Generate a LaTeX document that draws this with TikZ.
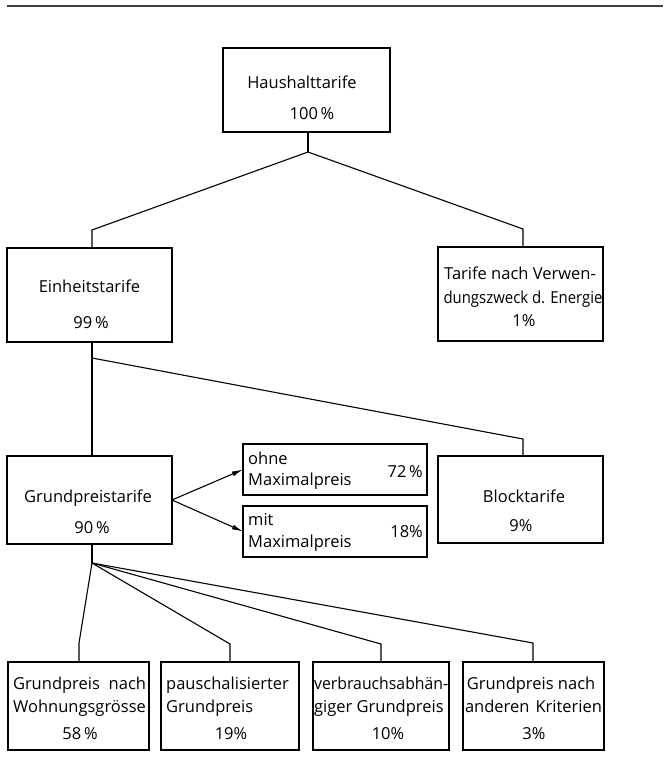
\documentclass[tikz,border=0pt]{standalone}
\usepackage{fontspec}
\usepackage{graphicx}
\setmainfont{Open Sans}
\usetikzlibrary{arrows.meta}

\begin{document}
\begin{tikzpicture}[x=1pt,y=-1pt,
  box/.style={draw, line width=1.2pt, inner sep=0pt, outer sep=0pt, anchor=north west},
  txt/.style={inner sep=0pt, anchor=base, font=\fontsize{16.5}{20}\selectfont},
  txtL/.style={txt, anchor=base west},
  txtR/.style={txt, anchor=base east},
  link/.style={line width=1.1pt},
  arr/.style={link, -{Latex[length=11pt,width=5pt]}}]

\useasboundingbox (0,0) rectangle (670,765);

% rule across the head of the page
\draw[line width=1.6pt, black!75] (7,6) -- (663,6);

% boxes
\node[box, minimum width=167pt, minimum height=84pt] (top)   at (223,48)  {};
\node[box, minimum width=165pt, minimum height=94pt] (ein)   at (7,248)   {};
\node[box, minimum width=165pt, minimum height=94pt] (ver)   at (438,247) {};
\node[box, minimum width=165pt, minimum height=88pt] (grund) at (7,456)   {};
\node[box, minimum width=165pt, minimum height=87pt] (block) at (438,456) {};
\node[box, minimum width=184pt, minimum height=51pt] (ohne)  at (243,444) {};
\node[box, minimum width=184pt, minimum height=51pt] (mit)   at (243,506) {};
\node[box, minimum width=141pt, minimum height=88pt] (b1)    at (8,662)   {};
\node[box, minimum width=138pt, minimum height=88pt] (b2)    at (161,662) {};
\node[box, minimum width=136pt, minimum height=88pt] (b3)    at (313,662) {};
\node[box, minimum width=141pt, minimum height=88pt] (b4)    at (463,662) {};

% labels
\node[txt] (tTop1) at (302,89)  {Haushalttarife};
\node[txt] (tTop2) at (312,120) {100\,\%};

\node[txt] (tEin1) at (89.5,292) {Einheitstarife};
\node[txt] (tEin2) at (91,328)   {99\,\%};

\node[txt] (tVer1) at (520,279) {Tarife nach Verwen-};
\node[txt] (tVer2) at (523,303) {\resizebox{159pt}{\height}{dungszweck d. Energie}};
\node[txt] (tVer3) at (524,326) {1\%};

\node[txt] (tGr1) at (88,502) {Grundpreistarife};
\node[txt] (tGr2) at (92,533) {90\,\%};

\node[txt] (tBl1) at (524,502) {Blocktarife};
\node[txt] (tBl2) at (521,531) {9\%};

\node[txtL] (tOh1) at (248,464) {ohne};
\node[txtL] (tOh2) at (248,485) {Maximalpreis};
\node[txtR] (tOh3) at (423,477) {72\,\%};

\node[txtL] (tMi1) at (248,525) {mit};
\node[txtL] (tMi2) at (248,547) {Maximalpreis};
\node[txtR] (tMi3) at (423,537) {18\%};

\node[txt] (tB11) at (79.5,689) {\hbox to 133pt{Grundpreis\hfil nach}};
\node[txt] (tB12) at (79.5,712) {Wohnungsgrösse};
\node[txt] (tB13) at (80,739)   {58\,\%};

\node[txtL] (tB21) at (166,689) {pauschalisierter};
\node[txtL] (tB22) at (166,712) {Grundpreis};
\node[txt]  (tB23) at (231,739) {19\%};

\node[txtL] (tB31) at (314,689) {\resizebox{134pt}{\height}{verbrauchsabhän-}};
\node[txtL] (tB32) at (314,712) {giger Grundpreis};
\node[txt]  (tB33) at (388,739) {10\%};

\node[txt] (tB41) at (531,689) {Grundpreis nach};
\node[txt] (tB42) at (533.5,712) {\hbox to 137pt{anderen\hfil Kriterien}};
\node[txt] (tB43) at (534,739) {3\%};

% junctions and bends
\coordinate (j1) at (308,152);
\coordinate (k1) at (92,230);
\coordinate (k2) at (523,229);
\coordinate (j2) at (92,358);
\coordinate (k3) at (523,439);
\coordinate (j3) at (92,563);
\coordinate (f1) at (79,643);
\coordinate (f2) at (230,644);
\coordinate (f3) at (381,644);
\coordinate (f4) at (533,643);

% Haushalttarife -> Einheitstarife / Verwendungszweck
\draw[link] (top.south -| j1) -- (j1);
\draw[link] (j1) -- (k1) -- (k1 |- ein.north);
\draw[link] (j1) -- (k2) -- (k2 |- ver.north);

% Einheitstarife -> Grundpreistarife / Blocktarife
\draw[link] (ein.south -| j2) -- (grund.north -| j2);
\draw[link] (j2) -- (k3) -- (k3 |- block.north);

% Grundpreistarife -> Maximalpreis variants
\draw[arr] (grund.east) -- (ohne.west);
\draw[arr] (grund.east) -- (mit.west);

% Grundpreistarife -> kinds of Grundpreis
\draw[link] (grund.south -| j3) -- (j3);
\draw[link] (j3) -- (f1) -- (f1 |- b1.north);
\draw[link] (j3) -- (f2) -- (f2 |- b2.north);
\draw[link] (j3) -- (f3) -- (f3 |- b3.north);
\draw[link] (j3) -- (f4) -- (f4 |- b4.north);

\end{tikzpicture}
\end{document}
